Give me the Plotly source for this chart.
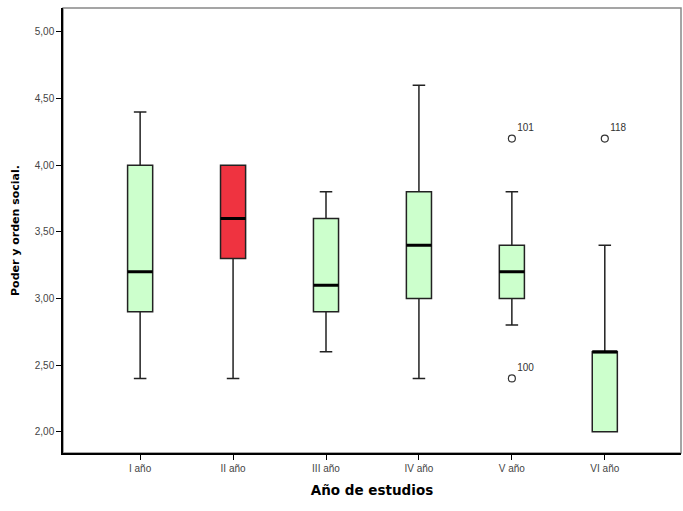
import plotly.graph_objects as go

categories = ["I año", "II año", "III año", "IV año", "V año", "VI año"]
lower = [2.40, 2.40, 2.60, 2.40, 2.80, 2.00]
q1 = [2.90, 3.30, 2.90, 3.00, 3.00, 2.00]
median = [3.20, 3.60, 3.10, 3.40, 3.20, 2.60]
q3 = [4.00, 4.00, 3.60, 3.80, 3.40, 2.60]
upper = [4.40, 4.00, 3.80, 4.60, 3.80, 3.40]
fills = ["#ccffcc", "#ef3340", "#ccffcc", "#ccffcc", "#ccffcc", "#ccffcc"]

outlier_cat = ["V año", "V año", "VI año"]
outlier_val = [4.20, 2.40, 4.20]
outlier_lab = ["101", "100", "118"]

fig = go.Figure()
for i, c in enumerate(categories):
    fig.add_trace(go.Box(
        x=[c], q1=[q1[i]], median=[median[i]], q3=[q3[i]],
        lowerfence=[lower[i]], upperfence=[upper[i]],
        fillcolor=fills[i], line=dict(color="#222222", width=1.5),
        width=0.27, whiskerwidth=0.5, boxpoints=False,
        showlegend=False, hoverinfo="skip"))
    # thick median line
    fig.add_trace(go.Box(
        x=[c], q1=[median[i]], median=[median[i]], q3=[median[i]],
        lowerfence=[median[i]], upperfence=[median[i]],
        fillcolor="rgba(0,0,0,0)", line=dict(color="#000000", width=3),
        width=0.27, whiskerwidth=0, boxpoints=False,
        showlegend=False, hoverinfo="skip"))

fig.add_trace(go.Scatter(
    x=outlier_cat, y=outlier_val, mode="markers+text",
    text=outlier_lab, textposition="top right",
    textfont=dict(family="Liberation Sans, Arial", size=10, color="#333333"),
    marker=dict(symbol="circle-open", size=7, color="#333333", line=dict(width=1.2)),
    showlegend=False, hoverinfo="skip", cliponaxis=False))

fig.update_layout(
    width=683, height=511,
    margin=dict(l=63, r=2, t=8, b=58),
    paper_bgcolor="white", plot_bgcolor="white",
    boxmode="overlay", separators=",.",
    font=dict(family="Liberation Sans, Arial", color="#000000"),
    shapes=[dict(type="rect", xref="paper", yref="paper", x0=0, y0=0, x1=1, y1=1,
                 line=dict(color="#888888", width=1.5), layer="below")],
)
fig.update_xaxes(
    type="category", categoryorder="array", categoryarray=categories,
    range=[-0.83, 5.82], showgrid=False, zeroline=False,
    showline=True, linecolor="#000000", linewidth=1.5,
    ticks="outside", ticklen=5, tickcolor="#000000",
    tickfont=dict(size=10, color="#444444"),
    title=dict(text="<b>Año de estudios</b>",
               font=dict(family="DejaVu Sans", size=13.5, color="#000000"), standoff=13))
fig.update_yaxes(
    range=[1.84, 5.18], tickvals=[2.0, 2.5, 3.0, 3.5, 4.0, 4.5, 5.0], tickformat=".2f",
    showgrid=False, zeroline=False,
    showline=True, linecolor="#000000", linewidth=1.5,
    ticks="outside", ticklen=5, tickcolor="#000000",
    tickfont=dict(size=10, color="#444444"),
    title=dict(text="<b>Poder y orden social.</b>",
               font=dict(family="DejaVu Sans", size=11, color="#000000"), standoff=13))

fig.write_html("out.html")
